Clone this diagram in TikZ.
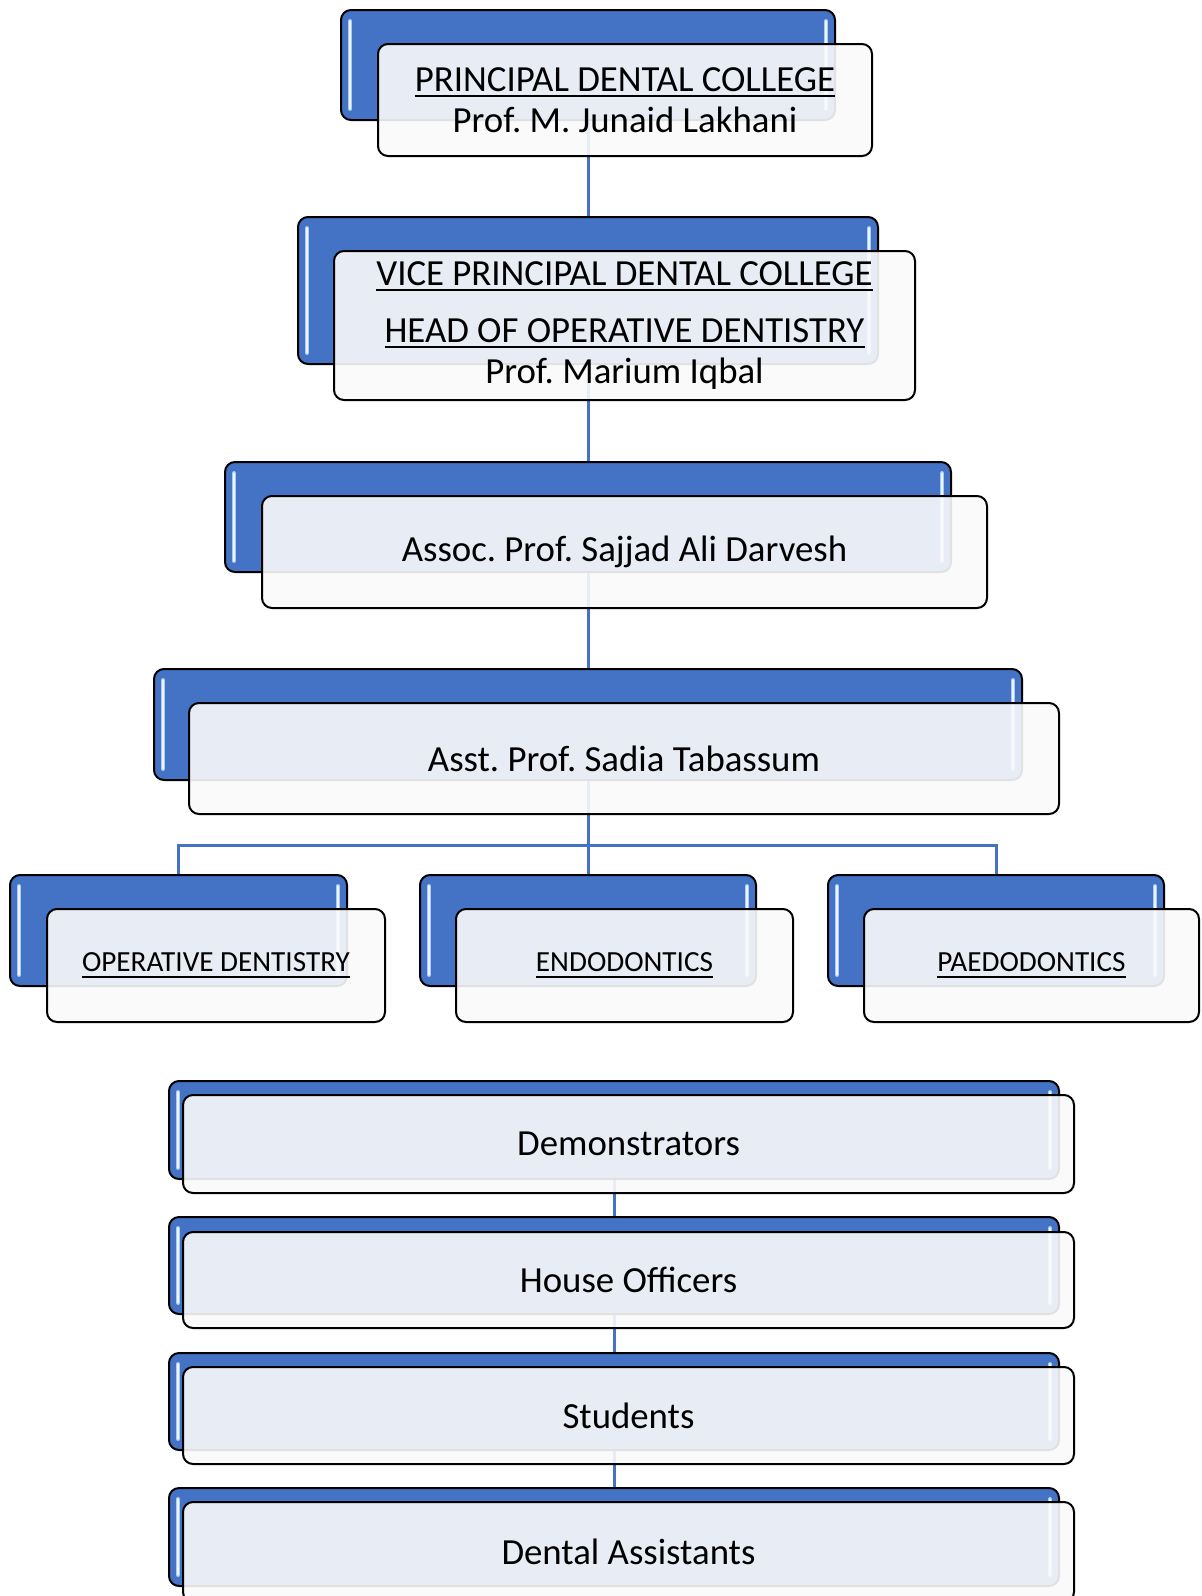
\documentclass[tikz,border=0pt]{standalone}
\usepackage{fontspec}
\setmainfont{Carlito}
\usetikzlibrary{backgrounds}
\definecolor{boxblue}{HTML}{4472C4}
\definecolor{linkblue}{HTML}{4472C4}
\definecolor{hlblue}{HTML}{A9CBF3}
\definecolor{frontfill}{HTML}{FAFAFA}

\newcommand\ulx[1]{\setbox0\hbox{#1}\rlap{\rule[-3pt]{\wd0}{1pt}}\box0}

\newcommand\mkbox[7]{%
 \pgfmathsetmacro\bxcx{(#2+#4)/2}%
 \pgfmathsetmacro\bxcy{(#3+#5)/2}%
 \pgfmathsetmacro\bxw{(#4-#2)*0.5}%
 \pgfmathsetmacro\bxh{(#5-#3)*0.5}%
 \node[#6, minimum width=\bxw pt, minimum height=\bxh pt] (#1) at (\bxcx,\bxcy) {#7};}

\newcommand\hlstrips[1]{%
 \draw[hl] ([xshift=5pt,yshift=-6pt]#1.north west) -- ([xshift=5pt,yshift=6pt]#1.south west);
 \draw[hlcore] ([xshift=5pt,yshift=-6pt]#1.north west) -- ([xshift=5pt,yshift=6pt]#1.south west);
 \draw[hl] ([xshift=-5pt,yshift=-6pt]#1.north east) -- ([xshift=-5pt,yshift=6pt]#1.south east);
 \draw[hlcore] ([xshift=-5pt,yshift=-6pt]#1.north east) -- ([xshift=-5pt,yshift=6pt]#1.south east);}

\tikzset{
  backbox/.style={draw=black, line width=1pt, fill=boxblue, rounded corners=5pt, inner sep=0pt},
  frontbox/.style={draw=black, line width=1pt, fill=frontfill, fill opacity=0.9, text opacity=1,
    rounded corners=5pt, inner sep=0pt, align=center, font=\fontsize{18.4}{20.5}\selectfont\frenchspacing},
  smallfront/.style={frontbox, font=\fontsize{14.6}{17.5}\selectfont\frenchspacing},
  conn/.style={draw=linkblue, line width=1.5pt},
  hl/.style={draw=hlblue, line width=2pt, line cap=round},
  hlcore/.style={draw=white, line width=0.6pt, line cap=round, opacity=0.8},
}

\begin{document}
\begin{tikzpicture}[x=0.5pt, y=-0.5pt]
\useasboundingbox (0,0) rectangle (1201,1596);

% level 1
\mkbox{b1}{341}{10}{835}{120}{backbox}{}
\hlstrips{b1}
\mkbox{f1}{378}{44}{872}{156}{frontbox}{\ulx{PRINCIPAL DENTAL COLLEGE}\\Prof. M. Junaid Lakhani}

% level 2
\mkbox{b2}{298}{217}{878}{364}{backbox}{}
\hlstrips{b2}
\mkbox{f2}{334}{251}{915}{400}{frontbox}{\ulx{VICE PRINCIPAL DENTAL COLLEGE}\\[8pt]\ulx{HEAD OF OPERATIVE DENTISTRY}\\Prof. Marium Iqbal}

% level 3
\mkbox{b3}{225}{462}{951}{572}{backbox}{}
\hlstrips{b3}
\mkbox{f3}{262}{496}{987}{608}{frontbox}{Assoc. Prof. Sajjad Ali Darvesh}

% level 4
\mkbox{b4}{154}{669}{1022}{780}{backbox}{}
\hlstrips{b4}
\mkbox{f4}{189}{703}{1059}{814}{frontbox}{Asst. Prof. Sadia Tabassum}

% departments
\mkbox{ra}{10}{875}{347}{986}{backbox}{}
\hlstrips{ra}
\mkbox{fa}{47}{909}{385}{1022}{smallfront}{\ulx{OPERATIVE DENTISTRY}}
\mkbox{rb}{420}{875}{756}{986}{backbox}{}
\hlstrips{rb}
\mkbox{fb}{456}{909}{793}{1022}{smallfront}{\ulx{ENDODONTICS}}
\mkbox{rc}{828}{875}{1164}{986}{backbox}{}
\hlstrips{rc}
\mkbox{fc}{864}{909}{1199}{1022}{smallfront}{\ulx{PAEDODONTICS}}

\coordinate (hub) at (588,845);

% staff stack
\mkbox{s1}{169}{1081}{1059}{1179}{backbox}{}
\hlstrips{s1}
\mkbox{t1}{183}{1095}{1074}{1193}{frontbox}{Demonstrators}
\mkbox{s2}{169}{1217}{1059}{1314}{backbox}{}
\hlstrips{s2}
\mkbox{t2}{183}{1232}{1074}{1328}{frontbox}{House Officers}
\mkbox{s3}{169}{1353}{1059}{1450}{backbox}{}
\hlstrips{s3}
\mkbox{t3}{183}{1367}{1074}{1464}{frontbox}{Students}
\mkbox{s4}{169}{1488}{1059}{1586}{backbox}{}
\hlstrips{s4}
\mkbox{t4}{183}{1502}{1074}{1602}{frontbox}{Dental Assistants}

\begin{pgfonlayer}{background}
\draw[conn] (b1.center) -- (b2.center) -- (b3.center) -- (b4.center) -- (hub);
\draw[conn] (ra.center) |- (hub) -| (rc.center);
\draw[conn] (hub) -- (rb.center);
\draw[conn] (s1.center) -- (s2.center) -- (s3.center) -- (s4.center);
\end{pgfonlayer}
\end{tikzpicture}
\end{document}
